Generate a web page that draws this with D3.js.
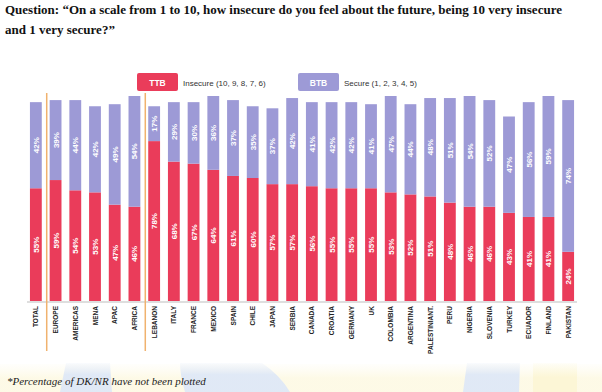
<!DOCTYPE html>
<html>
<head>
<meta charset="UTF-8">
<style>
  body { margin: 0; background: #fff; }
  svg { display: block; }
</style>
</head>
<body>
<svg></svg>
<script src="https://d3js.org/d3.v7.min.js"></script>
<script>
let width = 602, height = 392;

let countries = ["TOTAL", "EUROPE", "AMERICAS", "MENA", "APAC", "AFRICA", "LEBANON", "ITALY", "FRANCE",
    "MEXICO", "SPAIN", "CHILE", "JAPAN", "SERBIA", "CANADA", "CROATIA", "GERMANY", "UK", "COLOMBIA",
    "ARGENTINA", "PALESTINIANT.", "PERU", "NIGERIA", "SLOVENIA", "TURKEY", "ECUADOR", "FINLAND", "PAKISTAN"];
let ttb = [55, 59, 54, 53, 47, 46, 78, 68, 67, 64, 61, 60, 57, 57, 56, 55, 55, 55, 53, 52, 51, 48, 46, 46, 43, 41, 41, 24];
let btb = [42, 39, 44, 42, 49, 54, 17, 29, 30, 36, 37, 35, 37, 42, 41, 42, 42, 41, 47, 44, 48, 51, 54, 52, 47, 56, 59, 74];
// separators drawn after these categories
let groupEnds = ["TOTAL", "AFRICA"];

let red = "#ea3c5a", blue = "#9d9ad6";

let svg = d3.select("svg")
    .attr("width", width)
    .attr("height", height)
    .style("font-family", "'Liberation Sans', Arial, sans-serif");

// faint background picture at the bottom
let bg = svg.append("g").attr("id", "background");
let defs = svg.append("defs");
let gb = defs.append("linearGradient").attr("id", "fadeBlue").attr("x1", 0).attr("x2", 0).attr("y1", 0).attr("y2", 1);
gb.append("stop").attr("offset", "0%").attr("stop-color", "#e4ecf9").attr("stop-opacity", 0.2);
gb.append("stop").attr("offset", "40%").attr("stop-color", "#dde7f7").attr("stop-opacity", 0.9);
let gy = defs.append("linearGradient").attr("id", "fadeYellow").attr("x1", 0).attr("x2", 0).attr("y1", 0).attr("y2", 1);
gy.append("stop").attr("offset", "0%").attr("stop-color", "#fdf9e2").attr("stop-opacity", 0.2);
gy.append("stop").attr("offset", "50%").attr("stop-color", "#fcf6d6").attr("stop-opacity", 1);
bg.append("rect").attr("x", 0).attr("y", 364).attr("width", 602).attr("height", 28).attr("fill", "url(#fadeYellow)").attr("opacity", 0.6);
bg.append("path").attr("d", "M66,363 L110,363 L112,392 L60,392 Z").attr("fill", "url(#fadeBlue)");
bg.append("path").attr("d", "M180,363 L262,363 Q280,375 290,392 L185,392 Q180,375 180,363 Z").attr("fill", "url(#fadeBlue)");
bg.append("path").attr("d", "M467,363 L520,363 L519,392 L463,392 Z").attr("fill", "url(#fadeBlue)");
bg.append("rect").attr("x", 533).attr("y", 363).attr("width", 44).attr("height", 29).attr("fill", "url(#fadeYellow)");

// title
let title = svg.append("text")
    .attr("x", 5)
    .attr("y", 14)
    .style("font-family", "'Liberation Serif', 'Times New Roman', serif")
    .style("font-weight", "bold")
    .style("font-size", "13px")
    .attr("fill", "#111");
title.append("tspan").attr("x", 5).attr("y", 14)
    .text("Question: \u201COn a scale from 1 to 10, how insecure do you feel about the future, being 10 very insecure");
title.append("tspan").attr("x", 5).attr("y", 34)
    .text("and 1 very secure?\u201D");

// legend
let legendItems = [
    {key: "TTB", label: "Insecure (10, 9, 8, 7, 6)", color: red, x: 137},
    {key: "BTB", label: "Secure (1, 2, 3, 4, 5)", color: blue, x: 298}
];
let legend = svg.append("g").attr("id", "legend")
    .selectAll("g")
    .data(legendItems)
    .enter().append("g")
    .attr("transform", d => `translate(${d.x}, 73)`);
legend.append("rect")
    .attr("width", 41)
    .attr("height", 18)
    .attr("rx", 2)
    .attr("fill", d => d.color);
legend.append("text")
    .attr("x", 20.5)
    .attr("y", 12.5)
    .attr("text-anchor", "middle")
    .attr("fill", "#fff")
    .style("font-weight", "bold")
    .style("font-size", "8.5px")
    .text(d => d.key);
legend.append("text")
    .attr("x", 46)
    .attr("y", 12.5)
    .attr("fill", "#333")
    .style("font-size", "8px")
    .text(d => d.label);

// scales
let x = d3.scaleBand()
    .domain(countries)
    .range([26, 578])
    .paddingInner(0.4)
    .paddingOuter(0.2);
let y = d3.scaleLinear()
    .domain([0, 100])
    .range([301, 96]);

let rows = countries.map((c, i) => ({country: c, ttb: ttb[i], btb: btb[i]}));

// baseline
svg.append("line")
    .attr("x1", 27).attr("x2", 577)
    .attr("y1", y(0) + 1).attr("y2", y(0) + 1)
    .attr("stroke", "#dedede")
    .attr("stroke-width", 2);

// bars
let bars = svg.append("g").attr("id", "bars")
    .selectAll("g")
    .data(rows)
    .enter().append("g");

bars.append("rect")
    .attr("x", d => x(d.country))
    .attr("width", x.bandwidth())
    .attr("y", d => y(d.ttb))
    .attr("height", d => y(0) - y(d.ttb))
    .attr("fill", red);
bars.append("rect")
    .attr("x", d => x(d.country))
    .attr("width", x.bandwidth())
    .attr("y", d => y(d.ttb + d.btb))
    .attr("height", d => y(d.ttb) - y(d.ttb + d.btb))
    .attr("fill", blue);

// value labels
function valueLabel(sel, yMid, val) {
    sel.append("text")
        .attr("transform", d => `translate(${x(d.country) + x.bandwidth() / 2 + 3}, ${yMid(d)}) rotate(-90)`)
        .attr("text-anchor", "middle")
        .attr("fill", "#fff")
        .style("font-size", "8px")
        .style("font-weight", "bold")
        .text(d => val(d) + "%");
}
valueLabel(bars, d => (y(0) + y(d.ttb)) / 2, d => d.ttb);
valueLabel(bars, d => (y(d.ttb) + y(d.ttb + d.btb)) / 2, d => d.btb);

// category labels
svg.append("g").attr("id", "xlabels")
    .selectAll("text")
    .data(countries)
    .enter().append("text")
    .attr("transform", d => `translate(${x(d) + x.bandwidth() / 2 + 2.5}, 306) rotate(-90)`)
    .attr("text-anchor", "end")
    .attr("fill", "#222")
    .style("font-size", "6.5px")
    .style("font-weight", "bold")
    .text(d => d);

// group separators
svg.append("g").attr("id", "separators")
    .selectAll("line")
    .data(groupEnds)
    .enter().append("line")
    .attr("x1", d => x(d) + x.bandwidth() + x.step() * x.paddingInner() / 2 + 1)
    .attr("x2", d => x(d) + x.bandwidth() + x.step() * x.paddingInner() / 2 + 1)
    .attr("y1", 93)
    .attr("y2", 351)
    .attr("stroke", "#f0b26e")
    .attr("stroke-width", 1.5);

// footnote
svg.append("text")
    .attr("x", 7)
    .attr("y", 385)
    .style("font-family", "'Liberation Serif', 'Times New Roman', serif")
    .style("font-style", "italic")
    .style("font-size", "11px")
    .attr("fill", "#222")
    .text("*Percentage of DK/NR have not been plotted");
</script>
</body>
</html>
